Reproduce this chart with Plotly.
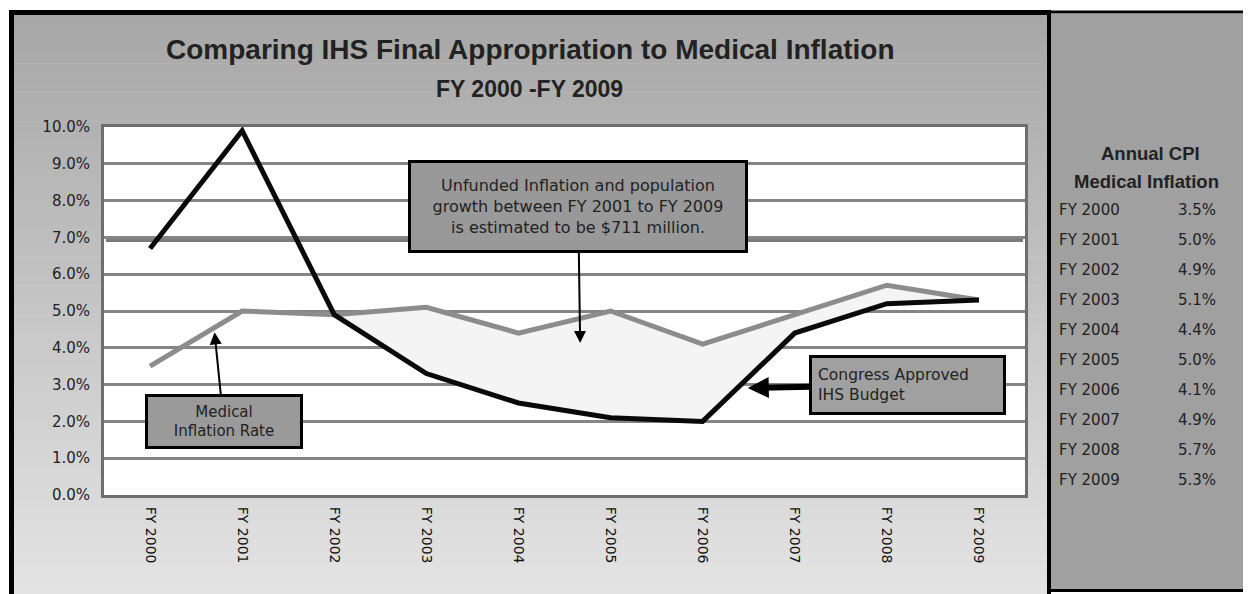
import plotly.graph_objects as go

# ---------------- data ----------------
years = ["FY 2000", "FY 2001", "FY 2002", "FY 2003", "FY 2004",
         "FY 2005", "FY 2006", "FY 2007", "FY 2008", "FY 2009"]
ihs_budget = [6.7, 9.9, 4.9, 3.3, 2.5, 2.1, 2.0, 4.4, 5.2, 5.3]
medical_inflation = [3.5, 5.0, 4.9, 5.1, 4.4, 5.0, 4.1, 4.9, 5.7, 5.3]
y_ticks = [0, 1, 2, 3, 4, 5, 6, 7, 8, 9, 10]
y_tick_labels = [f"{v:.1f}%" for v in y_ticks]

title_text = "Comparing IHS Final Appropriation to Medical Inflation"
subtitle_text = "FY 2000 -FY 2009"
panel_title_1 = "Annual CPI"
panel_title_2 = "Medical Inflation"
note_unfunded = ("Unfunded Inflation and population<br>growth between FY 2001 to FY 2009"
                 "<br>is estimated to be $711 million.")
note_medical = "Medical<br>Inflation Rate"
note_budget = "Congress Approved<br>IHS Budget"

# ---------------- geometry helpers (reference pixels -> paper) ----------------
OFF = 8                      # page body margin of the html page
W, H = 1251 - OFF, 594 - OFF
PL, PR, PT, PB = 104, 1025, 127, 495   # plot area in reference pixels


def xp(px):
    return (px - PL) / (PR - PL)


def yp(py):
    return (PB - py) / (PB - PT)


FONT = "DejaVu Sans"
TFONT = "Liberation Sans"

fig = go.Figure()

# fill between curves FY2002..FY2009
fig.add_trace(go.Scatter(x=years[2:], y=ihs_budget[2:], mode="lines",
                         line=dict(width=0, color="rgba(0,0,0,0)"),
                         hoverinfo="skip", showlegend=False))
fig.add_trace(go.Scatter(x=years[2:], y=medical_inflation[2:], mode="lines",
                         line=dict(width=0, color="rgba(0,0,0,0)"),
                         fill="tonexty", fillcolor="#f4f4f4",
                         hoverinfo="skip", showlegend=False))

fig.add_trace(go.Scatter(x=years, y=medical_inflation, mode="lines",
                         line=dict(color="#8c8c8c", width=5),
                         name="Medical Inflation Rate", showlegend=False))
fig.add_trace(go.Scatter(x=years, y=ihs_budget, mode="lines",
                         line=dict(color="#0a0a0a", width=5),
                         name="Congress Approved IHS Budget", showlegend=False))

shapes = []
# gradient background of main chart
N = 60
top_c, bot_c = 166, 228
y0px, y1px = 15, 594
for i in range(N):
    a = y0px + (y1px - y0px) * i / N
    b = y0px + (y1px - y0px) * (i + 1) / N + 0.6
    c = int(round(top_c + (bot_c - top_c) * (i + 0.5) / N))
    shapes.append(dict(type="rect", xref="paper", yref="paper",
                       x0=xp(14), x1=xp(1048), y0=yp(b), y1=yp(a),
                       fillcolor=f"rgb({c},{c},{c})", line=dict(width=0),
                       layer="below"))
# right panel
shapes.append(dict(type="rect", xref="paper", yref="paper",
                   x0=xp(1049), x1=xp(1252), y0=yp(590), y1=yp(14),
                   fillcolor="#a0a0a0", line=dict(width=0), layer="below"))
# white plot area
shapes.append(dict(type="rect", xref="paper", yref="paper",
                   x0=0, x1=1, y0=0, y1=1,
                   fillcolor="white", line=dict(width=0), layer="below"))
# thicker 7% line
shapes.append(dict(type="rect", xref="paper", yref="paper",
                   x0=xp(106), x1=xp(1023), y0=yp(242), y1=yp(236),
                   fillcolor="#7a7a7a", line=dict(width=0), layer="below"))
# black frame lines
shapes.append(dict(type="line", xref="paper", yref="paper",
                   x0=xp(9), x1=xp(1050), y0=yp(12.5), y1=yp(12.5),
                   line=dict(color="black", width=5)))
shapes.append(dict(type="line", xref="paper", yref="paper",
                   x0=xp(1050), x1=xp(1252), y0=yp(12), y1=yp(12),
                   line=dict(color="black", width=3)))
shapes.append(dict(type="line", xref="paper", yref="paper",
                   x0=xp(11.5), x1=xp(11.5), y0=yp(10), y1=yp(596),
                   line=dict(color="black", width=5)))
shapes.append(dict(type="line", xref="paper", yref="paper",
                   x0=xp(1049), x1=xp(1049), y0=yp(10), y1=yp(596),
                   line=dict(color="black", width=4)))
shapes.append(dict(type="line", xref="paper", yref="paper",
                   x0=xp(1049), x1=xp(1252), y0=yp(590.5), y1=yp(590.5),
                   line=dict(color="black", width=3)))

annotations = []
# titles
annotations.append(dict(text=f"<b>{title_text}</b>", xref="paper", yref="paper",
                        x=xp(530), y=yp(49), showarrow=False,
                        xanchor="center", yanchor="middle",
                        font=dict(family=TFONT, size=28, color="#222222")))
annotations.append(dict(text=f"<b>{subtitle_text}</b>", xref="paper", yref="paper",
                        x=xp(529), y=yp(89), showarrow=False,
                        xanchor="center", yanchor="middle",
                        font=dict(family=TFONT, size=23, color="#222222")))

# callout boxes
annotations.append(dict(text=note_unfunded, xref="x", yref="y",
                        x=4.67, y=4.13, ax=-2, ay=-137,
                        showarrow=True, arrowhead=2, arrowsize=1.2, arrowwidth=2,
                        arrowcolor="black", bgcolor="#999999",
                        bordercolor="black", borderwidth=3, borderpad=0,
                        width=334, height=87, align="center",
                        font=dict(family=FONT, size=16, color="#222222")))
annotations.append(dict(text=note_medical, xref="x", yref="y",
                        x=0.70, y=4.42, ax=9, ay=89,
                        showarrow=True, arrowhead=2, arrowsize=1.2, arrowwidth=2,
                        arrowcolor="black", bgcolor="#9a9a9a",
                        bordercolor="black", borderwidth=3, borderpad=0,
                        width=152, height=49, align="center",
                        font=dict(family=FONT, size=15, color="#222222")))
annotations.append(dict(text=note_budget, xref="x", yref="y",
                        x=6.49, y=2.91, ax=160, ay=-3,
                        showarrow=True, arrowhead=2, arrowsize=0.7, arrowwidth=6,
                        arrowcolor="black", bgcolor="#a0a0a0",
                        bordercolor="black", borderwidth=3, borderpad=6,
                        width=179, height=42, align="left",
                        font=dict(family=FONT, size=15.5, color="#222222")))

# right panel table
annotations.append(dict(text=f"<b>{panel_title_1}</b>", xref="paper", yref="paper",
                        x=xp(1150), y=yp(153), showarrow=False,
                        xanchor="center", yanchor="middle",
                        font=dict(family=TFONT, size=18.5, color="#222222")))
annotations.append(dict(text=f"<b>{panel_title_2}</b>", xref="paper", yref="paper",
                        x=xp(1146), y=yp(181), showarrow=False,
                        xanchor="center", yanchor="middle",
                        font=dict(family=TFONT, size=18.5, color="#222222")))
row_y0, row_dy = 210, 30
for i, (yr, v) in enumerate(zip(years, medical_inflation)):
    ypix = row_y0 + i * row_dy
    annotations.append(dict(text=yr, xref="paper", yref="paper",
                            x=xp(1057), y=yp(ypix), showarrow=False,
                            xanchor="left", yanchor="middle",
                            font=dict(family=FONT, size=15, color="#222222")))
    annotations.append(dict(text=f"{v:.1f}%", xref="paper", yref="paper",
                            x=xp(1218), y=yp(ypix), showarrow=False,
                            xanchor="right", yanchor="middle",
                            font=dict(family=FONT, size=15, color="#222222")))

fig.update_layout(
    width=W, height=H, autosize=False,
    margin=dict(l=PL - OFF, r=W - (PR - OFF), t=PT - OFF, b=H - (PB - OFF)),
    paper_bgcolor="white", plot_bgcolor="white",
    shapes=shapes, annotations=annotations,
    showlegend=False,
    xaxis=dict(type="category", categoryorder="array", categoryarray=years,
               range=[-0.5, 9.5], tickangle=90,
               showgrid=False, showline=True, linecolor="#6e6e6e", linewidth=3,
               mirror=True, ticks="", ticklabelstandoff=6,
               tickfont=dict(family=FONT, size=14, color="#111111")),
    yaxis=dict(range=[0, 10], tickvals=y_ticks, ticktext=y_tick_labels,
               showgrid=True, gridcolor="#858585", gridwidth=3,
               zeroline=False, showline=True, linecolor="#6e6e6e", linewidth=3,
               mirror=True, ticks="", ticklabelstandoff=8,
               tickfont=dict(family=FONT, size=15, color="#222222")),
)

fig.write_html("out.html")
